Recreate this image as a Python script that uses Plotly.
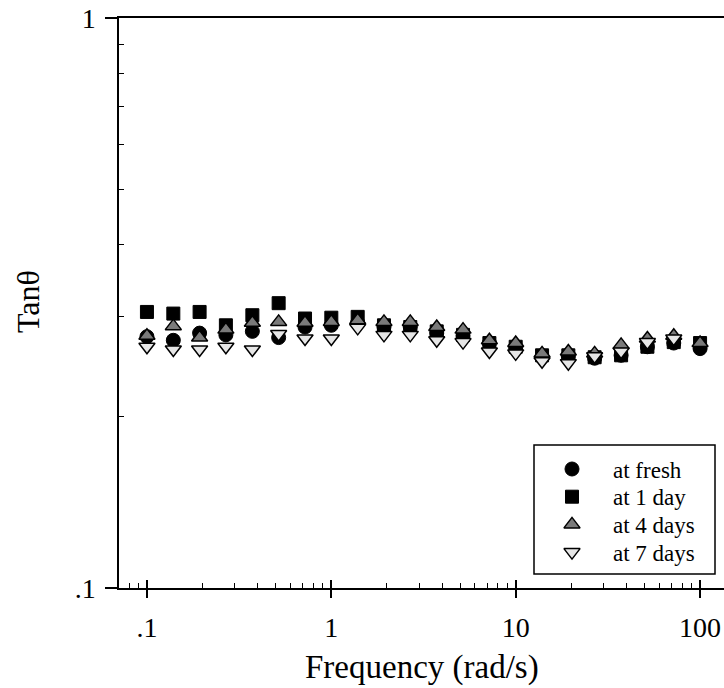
import plotly.graph_objects as go

# Angular frequency (rad/s), 7 points per decade
freq = [0.1, 0.139, 0.193, 0.268, 0.373, 0.518, 0.72, 1.0, 1.39, 1.93, 2.68,
        3.73, 5.18, 7.2, 10.0, 13.9, 19.3, 26.8, 37.3, 51.8, 72.0, 100.0]

# Loss tangent for each storage time
tan_fresh = [0.276, 0.272, 0.280, 0.278, 0.282, 0.275, 0.287, 0.289, 0.292, 0.287, 0.287,
             0.280, 0.277, 0.269, 0.264, 0.254, 0.255, 0.253, 0.256, 0.265, 0.269, 0.263]
tan_1day = [0.305, 0.303, 0.305, 0.289, 0.301, 0.316, 0.297, 0.298, 0.299, 0.289, 0.287,
            0.282, 0.278, 0.269, 0.265, 0.256, 0.256, 0.254, 0.256, 0.265, 0.270, 0.269]
tan_4days = [0.277, 0.288, 0.275, 0.284, 0.292, 0.293, 0.292, 0.293, 0.295, 0.293, 0.293,
             0.287, 0.284, 0.272, 0.269, 0.258, 0.260, 0.258, 0.267, 0.274, 0.277, 0.269]
tan_7days = [0.265, 0.262, 0.262, 0.265, 0.262, 0.279, 0.274, 0.274, 0.286, 0.278, 0.278,
             0.272, 0.270, 0.260, 0.258, 0.250, 0.248, 0.255, 0.260, 0.270, 0.274, None]

series_names = ["at fresh", "at 1 day", "at 4 days", "at 7 days"]

x_major = [0.1, 1, 10, 100]
x_major_text = [".1", "1", "10", "100"]
x_minor = [0.08, 0.09] + [m * d for d in (0.1, 1, 10) for m in range(2, 10)]
y_major = [0.1, 1]
y_major_text = [".1", "1"]
y_minor = [m / 10 for m in range(2, 10)]

FONT = "Liberation Serif, Times New Roman, serif"
INK = "black"

styles = [
    dict(symbol="circle", size=14, color="black", line=dict(color=INK, width=1)),
    dict(symbol="square", size=13, color="black", line=dict(color=INK, width=1)),
    dict(symbol="triangle-up", size=14, color="#7a7a7a", line=dict(color=INK, width=1.5)),
    dict(symbol="triangle-down", size=14, color="#e6e6e6", line=dict(color=INK, width=1.5)),
]

# Plot area in page pixels (left, right, top, bottom)
L, R, T, B = 119, 724, 18, 588

fig = go.Figure()
for name, vals, st in zip(series_names, [tan_fresh, tan_1day, tan_4days, tan_7days], styles):
    fig.add_trace(go.Scatter(x=freq, y=vals, mode="markers", name=name, marker=st,
                             cliponaxis=False, showlegend=False))

# Second x axis carries the upper half of the crossing major ticks
fig.add_trace(go.Scatter(x=[None], y=[None], xaxis="x2", showlegend=False,
                         hoverinfo="skip"))

# Key box laid out on a pixel-scaled overlay axis pair (x3/y3)
key_left, key_right, key_top, key_bottom = 534, 715, 445, 574
key_sym_x, key_txt_x = 572, 611
row0, row_gap = 469, 27.7
annotations = []
for i, (name, st) in enumerate(zip(series_names, styles)):
    ry = row0 + i * row_gap
    fig.add_trace(go.Scatter(x=[key_sym_x], y=[ry], mode="markers", marker=st,
                             xaxis="x3", yaxis="y3", showlegend=False,
                             hoverinfo="skip", cliponaxis=False))
    annotations.append(dict(text=name, xref="x3", yref="y3", x=key_txt_x, y=ry + 1,
                            xanchor="left", yanchor="middle", showarrow=False,
                            font=dict(family=FONT, size=23, color=INK)))

annotations += [
    dict(text="Frequency (rad/s)", xref="paper", yref="paper",
         x=0.5, y=-0.14, xanchor="center", yanchor="middle", showarrow=False,
         font=dict(family=FONT, size=33, color=INK)),
    dict(text="Tanθ", xref="paper", yref="paper", textangle=-90,
         x=(28 - L) / (R - L), y=(B - 302) / (B - T), xanchor="center", yanchor="middle",
         showarrow=False, font=dict(family=FONT, size=32, color=INK)),
]

xr = [-1.1516, 2.1298]
fig.update_layout(
    width=724, height=688,
    margin=dict(l=L, r=724 - R, t=T, b=688 - B),
    paper_bgcolor="white", plot_bgcolor="white",
    font=dict(family=FONT, color=INK),
    showlegend=False,
    xaxis=dict(
        type="log", range=xr, showgrid=False, zeroline=False,
        showline=True, linecolor=INK, linewidth=1.5, mirror=True,
        ticks="outside", ticklen=8, tickwidth=1.5, tickcolor=INK,
        tickvals=x_major, ticktext=x_major_text, ticklabelstandoff=6,
        tickfont=dict(family=FONT, size=28, color=INK),
        minor=dict(ticks="inside", ticklen=5, tickwidth=1, tickcolor=INK,
                   tickvals=x_minor, showgrid=False),
    ),
    xaxis2=dict(
        type="log", range=xr, overlaying="x", anchor="y", side="bottom",
        showgrid=False, zeroline=False, showline=False,
        ticks="inside", ticklen=8, tickwidth=1.5, tickcolor=INK,
        tickvals=x_major, showticklabels=False,
    ),
    xaxis3=dict(range=[L, R], overlaying="x", anchor="y3", visible=False),
    yaxis3=dict(range=[B, T], overlaying="y", anchor="x3", visible=False),
    yaxis=dict(
        type="log", range=[-1, 0], showgrid=False, zeroline=False,
        showline=True, linecolor=INK, linewidth=1.5,
        ticks="outside", ticklen=12, tickwidth=1.5, tickcolor=INK,
        tickvals=y_major, ticktext=y_major_text, ticklabelstandoff=4,
        tickfont=dict(family=FONT, size=28, color=INK),
        minor=dict(ticks="inside", ticklen=5, tickwidth=1, tickcolor=INK,
                   tickvals=y_minor, showgrid=False),
    ),
    shapes=[dict(type="rect", xref="x3", yref="y3", x0=key_left, x1=key_right,
                 y0=key_top, y1=key_bottom, line=dict(color=INK, width=1.5),
                 fillcolor="white", layer="below")],
    annotations=annotations,
)

fig.write_html("out.html")
